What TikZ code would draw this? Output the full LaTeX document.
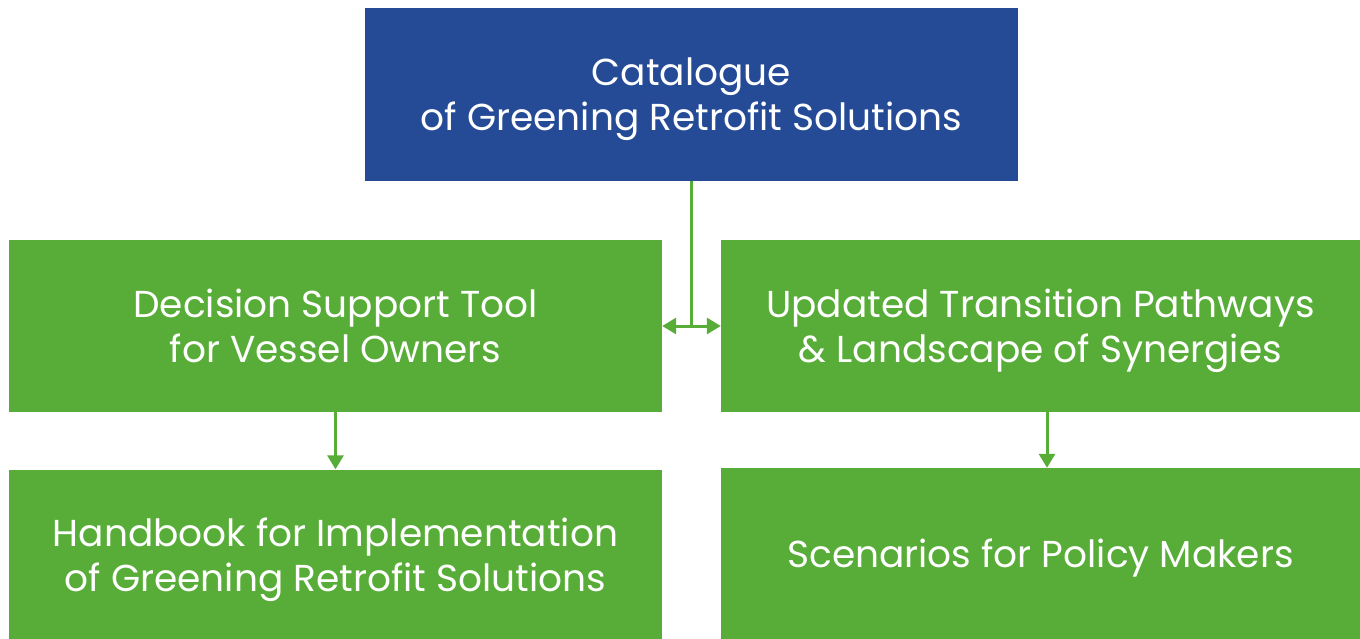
\documentclass[tikz,border=0pt]{standalone}
\usepackage{fontspec}
\setmainfont{Poppins}
\usetikzlibrary{arrows.meta}
\definecolor{catblue}{RGB}{37,75,150}
\definecolor{toolgreen}{RGB}{87,173,55}
\tikzset{
    common/.style={draw=none, rectangle, text=white, align=center, inner sep=0pt,
        text depth=0pt, font=\fontsize{37.5}{45}\selectfont},
    catbox/.style={common, fill=catblue, minimum width=653pt, minimum height=173pt},
    leftbox/.style={common, fill=toolgreen, minimum width=653pt, minimum height=171pt},
    rightbox/.style={common, fill=toolgreen, minimum width=639pt, minimum height=171pt},
    link/.style={draw=toolgreen, line width=3pt},
    tip/.style={-{Triangle[width=16pt,length=14pt]}}
}
\begin{document}
\begin{tikzpicture}[x=1pt, y=-1pt]
    \useasboundingbox (0,0) rectangle (1360,639);

    \node[catbox] (cat) at (691.5,94.5) {Catalogue\\of Greening Retrofit Solutions};

    \node[leftbox] (dst) at (335.5,326) {Decision Support Tool\\for Vessel Owners};
    \node[leftbox] (hbk) at (335.5,555) {Handbook for Implementation\\of Greening Retrofit Solutions};

    \node[rightbox] (upd) at (1040.5,326) {Updated Transition Pathways\\\& Landscape of Synergies};
    \node[rightbox] (scn) at (1040.5,553.5) {Scenarios for Policy Makers};

    \coordinate (junc) at (cat.south |- dst.east);
    \draw[link] (cat.south) -- (junc);
    \draw[link, {Triangle[width=16pt,length=14pt]}-{Triangle[width=16pt,length=14pt]}] (dst.east) -- (upd.west);

    \coordinate (updout) at ([xshift=6.5pt]upd.south);
    \draw[link, tip] (dst.south) -- (hbk.north);
    \draw[link, tip] (updout) -- (updout |- scn.north);
\end{tikzpicture}
\end{document}
